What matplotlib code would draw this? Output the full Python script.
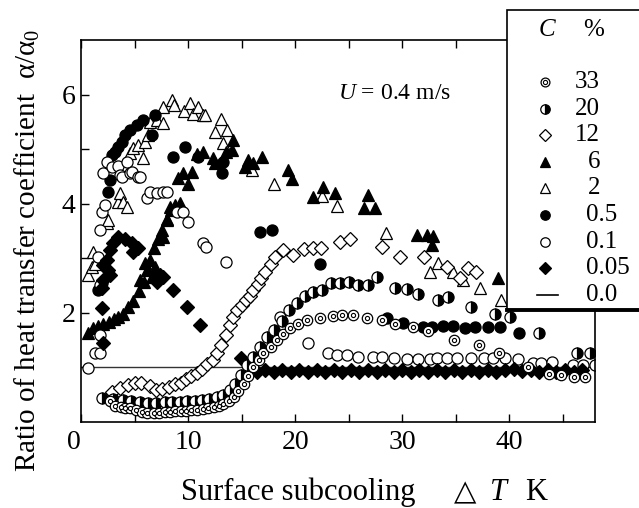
import matplotlib
matplotlib.use("Agg")
import matplotlib.pyplot as plt
from matplotlib.lines import Line2D
from matplotlib.patches import Rectangle

plt.rcParams.update({
    "font.family": ["Liberation Serif", "DejaVu Serif"],
    "mathtext.fontset": "custom",
    "mathtext.rm": "Liberation Serif",
    "mathtext.it": "Liberation Serif:italic",
    "font.size": 20,
})

# (dT, alpha/alpha0), one list per concentration
C33 = [(2.7, 0.38), (3.2, 0.30), (3.7, 0.27), (4.1, 0.26), (4.6, 0.25), (5.1, 0.22),
       (5.7, 0.18), (6.2, 0.17), (6.8, 0.16), (7.3, 0.17), (7.8, 0.19), (8.3, 0.18),
       (8.8, 0.20), (9.3, 0.21), (9.8, 0.21), (10.3, 0.22), (10.8, 0.22), (11.4, 0.24),
       (11.9, 0.26), (12.4, 0.28), (12.9, 0.30), (13.3, 0.33), (13.8, 0.38), (14.3, 0.46),
       (14.7, 0.56), (15.2, 0.70), (15.6, 0.85), (16.1, 1.00), (16.6, 1.13), (17.0, 1.26),
       (17.7, 1.38), (18.3, 1.50), (18.9, 1.62), (19.5, 1.72), (20.3, 1.79), (21.1, 1.87),
       (22.3, 1.91), (23.5, 1.94), (24.4, 1.96), (25.4, 1.96), (26.7, 1.90), (28.1, 1.87),
       (29.3, 1.79), (31.0, 1.74), (32.4, 1.67), (34.8, 1.50), (37.2, 1.41), (39.0, 1.26),
       (41.7, 1.00), (43.7, 0.88), (44.8, 0.86), (46.0, 0.82), (47.1, 0.83)]

C20 = [(2.0, 0.44), (3.0, 0.42), (3.9, 0.40), (4.7, 0.38), (5.5, 0.36), (6.3, 0.35),
       (7.0, 0.35), (7.8, 0.36), (8.5, 0.36), (9.2, 0.37), (9.9, 0.38), (10.6, 0.38),
       (11.3, 0.40), (12.0, 0.42), (12.7, 0.45), (13.3, 0.50), (13.9, 0.58), (14.4, 0.70),
       (14.9, 0.86), (15.5, 1.04), (16.1, 1.20), (16.7, 1.37), (17.4, 1.56), (18.0, 1.68),
       (18.8, 1.85), (19.4, 2.05), (20.2, 2.18), (20.9, 2.30), (21.7, 2.38), (22.5, 2.42),
       (23.3, 2.55), (24.2, 2.55), (25.0, 2.57), (25.9, 2.51), (26.8, 2.51), (27.6, 2.66),
       (29.3, 2.45), (30.4, 2.44), (31.5, 2.34), (33.3, 2.23), (34.3, 2.29), (36.4, 2.11),
       (38.7, 1.98), (40.1, 1.93), (42.8, 1.63), (46.3, 1.27), (47.5, 1.27)]

C12 = [(2.9, 0.55), (3.6, 0.62), (4.4, 0.67), (5.0, 0.71), (5.6, 0.72), (6.4, 0.66),
       (7.0, 0.58), (7.6, 0.60), (8.2, 0.65), (8.8, 0.69), (9.3, 0.72), (9.8, 0.78),
       (10.3, 0.85), (10.8, 0.90), (11.3, 0.97), (11.8, 1.06), (12.3, 1.13), (12.7, 1.26),
       (13.1, 1.42), (13.5, 1.60), (13.9, 1.78), (14.2, 1.92), (14.6, 2.05), (15.0, 2.14),
       (15.4, 2.23), (15.8, 2.30), (16.1, 2.42), (16.5, 2.52), (16.8, 2.64), (17.2, 2.75),
       (17.7, 2.90), (18.1, 3.02), (18.9, 3.15), (19.8, 3.06), (20.8, 3.17), (21.7, 3.18),
       (22.4, 3.18), (24.2, 3.30), (25.1, 3.35), (28.1, 3.20), (29.8, 3.02), (32.0, 3.02),
       (34.2, 2.84), (35.4, 2.64), (36.1, 2.82), (36.9, 2.75)]

C6 = [(0.7, 1.63), (1.1, 1.72), (1.6, 1.76), (2.1, 1.80), (2.6, 1.84), (3.1, 1.88),
      (3.5, 1.92), (3.9, 1.98), (4.4, 2.10), (4.9, 2.22), (5.4, 2.40), (5.9, 2.57),
      (6.2, 2.78), (6.4, 2.97), (6.8, 3.18), (7.2, 3.35), (7.6, 3.52), (8.0, 3.72),
      (8.4, 3.88), (8.8, 3.97), (9.2, 4.01), (5.5, 2.60), (6.0, 2.91), (6.6, 2.66),
      (6.9, 2.84), (7.7, 3.39), (8.3, 3.94), (8.0, 3.70), (9.1, 4.47), (9.5, 4.56),
      (10.0, 4.37), (10.4, 4.58), (10.8, 4.92), (11.4, 4.95), (12.3, 4.84), (12.5, 4.74),
      (13.5, 4.95), (14.1, 4.98), (14.2, 5.16), (15.3, 4.67), (15.6, 4.80), (16.1, 4.74),
      (16.9, 4.85), (19.3, 4.62), (19.7, 4.45), (21.7, 4.12), (22.6, 4.30), (23.7, 4.19),
      (26.4, 3.92), (26.8, 4.16), (27.5, 3.92), (31.4, 3.42), (32.3, 3.42), (32.9, 3.40),
      (32.8, 3.24), (38.9, 2.64)]

C2 = [(0.7, 2.69), (1.0, 2.84), (1.3, 2.90), (1.1, 3.11), (2.4, 3.64), (2.5, 3.70),
      (3.5, 4.03), (3.6, 4.19), (3.9, 4.03), (4.3, 3.94), (4.6, 4.93), (4.9, 5.02),
      (5.3, 5.07), (5.8, 4.84), (6.0, 5.13), (6.3, 5.26), (6.4, 5.50), (7.1, 5.53),
      (7.7, 5.48), (7.7, 5.78), (8.5, 5.90), (8.7, 5.80), (9.6, 5.70), (10.2, 5.84),
      (10.5, 5.64), (10.9, 5.78), (11.4, 5.62), (11.6, 5.62), (12.5, 5.32), (13.1, 5.55),
      (13.6, 5.35), (13.3, 5.11), (16.0, 4.62), (18.0, 4.37), (22.5, 4.14), (23.9, 3.95),
      (28.5, 3.46), (32.6, 2.75), (33.3, 2.91), (34.7, 2.75), (35.7, 2.60), (37.3, 2.45),
      (39.2, 2.23)]

C05 = [(1.6, 2.42), (2.0, 2.55), (2.5, 4.21), (2.7, 4.43), (2.9, 4.89), (3.2, 4.95),
       (3.5, 5.04), (3.8, 5.13), (4.1, 5.26), (4.6, 5.35), (5.2, 5.44), (5.8, 5.53),
       (6.6, 5.26), (6.9, 5.62), (8.6, 4.85), (9.7, 5.04), (10.9, 4.85), (13.2, 4.56),
       (13.3, 4.76), (16.7, 3.48), (17.8, 3.52), (22.3, 2.90), (28.6, 1.90), (30.1, 1.82),
       (31.9, 1.74), (32.8, 1.74), (33.8, 1.76), (34.7, 1.76), (35.9, 1.72), (36.8, 1.74),
       (38.0, 1.74), (39.1, 1.74), (40.9, 1.63)]

C01 = [(0.65, 0.99), (1.3, 1.26), (1.8, 1.26), (1.8, 1.60), (1.8, 2.51), (1.6, 3.02),
       (1.8, 3.52), (2.0, 3.85), (2.2, 3.97), (2.4, 4.76), (2.1, 4.56), (2.9, 4.67),
       (3.5, 4.70), (3.6, 4.52), (3.8, 4.49), (4.3, 4.76), (4.6, 4.56), (4.8, 4.58),
       (5.3, 4.49), (5.5, 4.49), (6.2, 4.10), (6.4, 4.21), (7.1, 4.19), (7.7, 4.21),
       (8.0, 4.21), (9.0, 3.85), (9.5, 3.85), (10.0, 3.66), (11.4, 3.28), (11.7, 3.20),
       (13.5, 2.93), (18.6, 1.92), (21.2, 1.45), (23.1, 1.26), (23.9, 1.23), (24.8, 1.22),
       (25.9, 1.20), (27.3, 1.20), (28.1, 1.19), (29.2, 1.18), (30.4, 1.16), (31.5, 1.16),
       (32.6, 1.16), (33.2, 1.18), (34.2, 1.18), (35.1, 1.18), (36.4, 1.18), (37.6, 1.17),
       (38.5, 1.18), (39.6, 1.17), (40.8, 1.15), (42.2, 1.08), (43.0, 1.09), (44.0, 1.10),
       (45.9, 1.04), (46.9, 1.04), (48.0, 1.04)]

C005 = [(2.0, 2.09), (2.0, 2.45), (2.1, 1.45), (2.1, 2.60), (2.1, 2.88), (2.4, 2.97),
        (2.5, 2.78), (2.7, 2.69), (2.7, 3.15), (3.0, 3.28), (3.5, 3.39), (4.1, 3.35),
        (4.8, 3.28), (5.3, 3.18), (4.9, 3.11), (7.1, 2.57), (7.4, 2.69), (7.7, 2.66),
        (8.6, 2.42), (9.9, 2.11), (11.1, 1.78), (14.9, 1.17), (15.6, 0.94), (16.4, 0.91),
        (17.2, 0.95), (18.0, 0.92), (18.8, 0.96), (19.6, 0.91), (20.4, 0.95), (21.2, 0.92),
        (22.0, 0.95), (22.8, 0.91), (23.6, 0.96), (24.4, 0.92), (25.2, 0.95), (26.0, 0.91),
        (26.8, 0.95), (27.6, 0.92), (28.4, 0.96), (29.2, 0.91), (30.0, 0.95), (30.8, 0.92),
        (31.6, 0.95), (32.4, 0.91), (33.2, 0.96), (34.0, 0.92), (34.8, 0.95), (35.6, 0.91),
        (36.4, 0.95), (37.2, 0.92), (38.0, 0.96), (38.8, 0.92), (39.6, 0.95), (40.4, 0.98),
        (41.2, 0.93), (42.0, 0.96), (42.8, 0.92), (43.6, 0.95), (44.4, 0.91), (45.2, 0.95),
        (46.0, 0.92), (46.8, 0.95)]

C0_LEVEL = 1.0
LEGEND_LABELS = ["33", "20", "12", "6", "2", "0.5", "0.1", "0.05", "0.0"]

MEW = 0.9
STYLES = {
    "33": dict(marker="o", ms=7.5, mfc="white", mec="black", mew=MEW),
    "20": dict(marker="o", ms=8, mfc="black", mfcalt="white", fillstyle="right",
               mec="black", mew=MEW),
    "12": dict(marker="D", ms=7, mfc="white", mec="black", mew=MEW),
    "6": dict(marker="^", ms=9, mfc="black", mec="black", mew=MEW),
    "2": dict(marker="^", ms=9, mfc="white", mec="black", mew=MEW),
    "0.5": dict(marker="o", ms=8, mfc="black", mec="black", mew=MEW),
    "0.1": dict(marker="o", ms=8, mfc="white", mec="black", mew=MEW),
    "0.05": dict(marker="D", ms=7, mfc="black", mec="black", mew=MEW),
}
INNER = dict(marker="o", ms=3.0, mfc="white", mec="black", mew=0.8)


def draw(ax, pts, key):
    xs, ys = zip(*pts)
    ax.plot(xs, ys, ls="none", **STYLES[key])
    if key == "33":
        ax.plot(xs, ys, ls="none", **INNER)


def fpos(x, y):
    return x / 639, 1 - y / 508


fig = plt.figure(figsize=(6.39, 5.08), dpi=100)
ax = fig.add_axes([81 / 639, 1 - 422 / 508, 514 / 639, 382 / 508])

ax.axhline(C0_LEVEL, color="0.2", lw=1.0, zorder=1)
draw(ax, C2, "2")
draw(ax, C6, "6")
draw(ax, C05, "0.5")
draw(ax, C01, "0.1")
draw(ax, C12, "12")
draw(ax, C005, "0.05")
draw(ax, C20, "20")
draw(ax, C33, "33")

ax.set_xlim(0, 48)
ax.set_ylim(0, 7)
ax.set_xticks([0, 10, 20, 30, 40])
ax.set_xticks([5, 15, 25, 35, 45], minor=True)
ax.set_yticks([2, 4, 6])
ax.set_yticks([1, 3, 5], minor=True)
ax.tick_params(which="both", direction="in", length=6, width=1.0,
               top=True, right=False)
ax.tick_params(axis="x", pad=6)
ax.tick_params(axis="y", pad=4)
ax.get_xticklabels()[0].set_ha("right")
for s in ax.spines.values():
    s.set_linewidth(1.2)

# x label in pieces so the triangle can come from a font that has it
base = 1 - 500 / 508
fig.text(181 / 639, base, "Surface subcooling", fontsize=22, ha="left", va="baseline")
fig.text(465 / 639, base, "\u25b3", fontsize=21, family="DejaVu Sans",
         ha="center", va="baseline")
fig.text(499 / 639, base, "$T$", fontsize=22, ha="center", va="baseline")
fig.text(536 / 639, base, "K", fontsize=22, ha="center", va="baseline")

ax.set_ylabel(r"Ratio of heat transfer coefficient  $\mathrm{\alpha}/\mathrm{\alpha}_0$",
              fontsize=21)
ax.yaxis.set_label_coords(-0.076, 0.45)

ax.text(24, 6.02, "$U$ = 0.4 m/s", fontsize=17, va="center", ha="left")

# hand-built legend box, running off the right edge like the original
x0, y0 = fpos(507, 310)
fig.add_artist(Rectangle((x0, y0), 0.4, 300 / 508, transform=fig.transFigure,
                         facecolor="white", edgecolor="black", lw=1.2, zorder=10))
fig.add_artist(Line2D([x0, 1.0], [y0, y0], transform=fig.transFigure,
                      color="black", lw=2.8, zorder=11))
fig.text(*fpos(547, 30), "$C$", fontsize=18, ha="center", va="center", zorder=12)
fig.text(*fpos(594, 30), "%", fontsize=18, ha="center", va="center", zorder=12)

for i, lab in enumerate(LEGEND_LABELS):
    yy = 82 + 26.6 * i
    mx, my = fpos(545, yy)
    if lab == "0.0":
        fig.add_artist(Line2D([537 / 639, 558 / 639], [my, my], transform=fig.transFigure,
                              color="black", lw=1.2, zorder=12))
    else:
        st = dict(STYLES[lab])
        st["ms"] = st["ms"] * 0.85
        fig.add_artist(Line2D([mx], [my], transform=fig.transFigure, ls="none",
                              zorder=12, **st))
        if lab == "33":
            fig.add_artist(Line2D([mx], [my], transform=fig.transFigure, ls="none",
                                  zorder=13, **INNER))
    if "." in lab:
        fig.text(586 / 639, my, lab, fontsize=18, ha="left", va="center", zorder=12)
    else:
        fig.text(600 / 639, my, lab, fontsize=18, ha="right", va="center", zorder=12)

fig.savefig("out.png", dpi=100)
